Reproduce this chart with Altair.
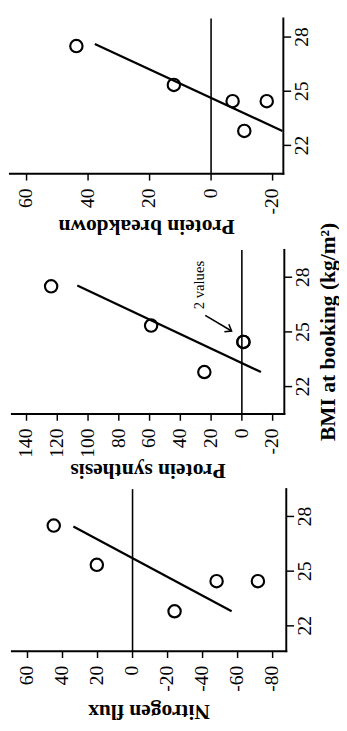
import altair as alt
import pandas as pd

# ---- data ----
bmi = [27.5, 25.35, 24.45, 24.45, 22.8]
nitrogen_flux = [45, 20.4, -48, -71.6, -24]
protein_synthesis = [124, 59, -1, -1, 24.4]
protein_breakdown = [43.8, 12.1, -7, -18.1, -10.8]

fit_bmi_nf = [27.45, 22.8]
fit_nf = [33.8, -56.6]
fit_bmi_ps = [27.55, 22.8]
fit_ps = [107, -12.4]
fit_bmi_pb = [27.62, 22.8]
fit_pb = [37.8, -23.2]

bmi_ticks = [22, 25, 28]
nf_ticks = [60, 40, 20, 0, -20, -40, -60, -80]
ps_ticks = [140, 120, 100, 80, 60, 40, 20, 0, -20]
pb_ticks = [60, 40, 20, 0, -20]

titles = ["Protein breakdown", "Protein synthesis", "Nitrogen flux"]
bmi_title = "BMI at booking (kg/m²)"

note_text = ["2 values"]
note_bmi = [27.57]
note_val = [27.6]
arrow_bmi = [25.91, 25.05]
arrow_val = [23.8, 6.7]

SERIF = "Liberation Serif"

# panel layout: value axis (horizontal, reversed) and BMI axis (vertical)
panels = [
    dict(name=titles[0], vals=protein_breakdown, fb=fit_bmi_pb, fv=fit_pb,
         ticks=pb_ticks, vdom=[-23.5, 65.4], xr=[280, 0],
         bdom=[20.43, 29.03], yr=[159, 0], ty=54),
    dict(name=titles[1], vals=protein_synthesis, fb=fit_bmi_ps, fv=fit_ps,
         ticks=ps_ticks, vdom=[-27.6, 149.5], xr=[281, 2],
         bdom=[20.5, 29.5], yr=[405, 237], ty=58, bmi_title=True, note=True),
    dict(name=titles[2], vals=nitrogen_flux, fb=fit_bmi_nf, fv=fit_nf,
         ticks=nf_ticks, vdom=[-87.8, 68.9], xr=[283, 2],
         bdom=[20.61, 29.5], yr=[648, 482], ty=62),
]


def build(p):
    xs = alt.Scale(domain=p["vdom"], range=p["xr"], nice=False, zero=False)
    ys = alt.Scale(domain=p["bdom"], range=p["yr"], nice=False, zero=False)

    def X(f):
        return alt.X(f, type="quantitative", scale=xs, axis=None)

    def Y(f):
        return alt.Y(f, type="quantitative", scale=ys, axis=None)

    v0, v1 = p["vdom"]
    b0, b1 = p["bdom"]
    out = []
    # zero reference line
    out.append(alt.Chart(pd.DataFrame({"v": [0], "b1": [b0], "b2": [b1]}))
               .mark_rule(color="black", strokeWidth=1.6)
               .encode(x=X("v"), y=Y("b1"), y2=alt.Y2("b2")))
    # axis lines
    out.append(alt.Chart(pd.DataFrame({"v1": [v0], "v2": [v1], "b": [b0]}))
               .mark_rule(color="black", strokeWidth=2, strokeCap="square")
               .encode(x=X("v1"), x2=alt.X2("v2"), y=Y("b")))
    out.append(alt.Chart(pd.DataFrame({"v": [v0], "b1": [b0], "b2": [b1]}))
               .mark_rule(color="black", strokeWidth=2, strokeCap="square")
               .encode(x=X("v"), y=Y("b1"), y2=alt.Y2("b2")))
    # value-axis ticks and labels
    xt = pd.DataFrame({"v": p["ticks"], "b": [b0] * len(p["ticks"]),
                       "lab": [str(t) for t in p["ticks"]]})
    out.append(alt.Chart(xt).mark_rule(color="black", strokeWidth=1.5, y2Offset=7)
               .encode(x=X("v"), y=Y("b"), y2=alt.Y2("b")))
    out.append(alt.Chart(xt).mark_text(font=SERIF, fontSize=20, angle=270,
                                       align="right", baseline="middle",
                                       color="black", yOffset=15)
               .encode(x=X("v"), y=Y("b"), text="lab:N"))
    # BMI-axis ticks and labels
    yt = pd.DataFrame({"bmi": bmi_ticks, "v": [v0] * len(bmi_ticks),
                       "lab": [str(t) for t in bmi_ticks]})
    out.append(alt.Chart(yt).mark_rule(color="black", strokeWidth=1.5, x2Offset=8)
               .encode(x=X("v"), x2=alt.X2("v"), y=Y("bmi")))
    out.append(alt.Chart(yt).mark_text(font=SERIF, fontSize=20, angle=270,
                                       align="center", baseline="top",
                                       color="black", xOffset=9)
               .encode(x=X("v"), y=Y("bmi"), text="lab:N"))
    # axis title (upside down, as in the rotated figure)
    out.append(alt.Chart(pd.DataFrame({"t": [p["name"]], "v": [(v0 + v1) / 2],
                                       "b": [b0]}))
               .mark_text(font=SERIF, fontSize=22, fontWeight="bold", angle=180,
                          align="center", baseline="middle", color="black",
                          yOffset=p["ty"])
               .encode(x=X("v"), y=Y("b"), text="t:N"))
    if p.get("bmi_title"):
        out.append(alt.Chart(pd.DataFrame({"t": [bmi_title], "v": [v0],
                                           "b": [(b0 + b1) / 2]}))
                   .mark_text(font=SERIF, fontSize=22, fontWeight="bold",
                              angle=270, align="center", baseline="middle",
                              color="black", xOffset=45)
                   .encode(x=X("v"), y=Y("b"), text="t:N"))
    # regression line and points
    out.append(alt.Chart(pd.DataFrame({"bmi": p["fb"], "v": p["fv"]}))
               .mark_line(color="black", strokeWidth=2.3)
               .encode(x=X("v"), y=Y("bmi"), order="bmi:Q"))
    out.append(alt.Chart(pd.DataFrame({"bmi": bmi, "v": p["vals"]}))
               .mark_point(shape="circle", filled=False, size=160, color="black",
                           strokeWidth=2.2, opacity=1)
               .encode(x=X("v"), y=Y("bmi")))
    if p.get("note"):
        out.append(alt.Chart(pd.DataFrame({"t": note_text, "bmi": note_bmi,
                                           "v": note_val}))
                   .mark_text(font=SERIF, fontSize=15, angle=270, align="center",
                              baseline="middle", color="black")
                   .encode(x=X("v"), y=Y("bmi"), text="t:N"))
        ar = pd.DataFrame({"bmi": arrow_bmi, "v": arrow_val, "o": [0, 1]})
        out.append(alt.Chart(ar).mark_line(color="black", strokeWidth=1.6)
                   .encode(x=X("v"), y=Y("bmi"), order="o:Q"))
        out.append(alt.Chart(ar.iloc[[1]]).mark_point(
            shape="M -1 -0.75 L 0 0 L -1 0.75", filled=False, size=140, angle=31,
            color="black", strokeWidth=1.6, opacity=1)
            .encode(x=X("v"), y=Y("bmi")))
    return out


layers = []
for p in panels:
    layers.extend(build(p))

chart = alt.layer(*layers).resolve_scale(
    x="independent", y="independent"
).properties(
    width=331, height=715,
    padding={"left": 0, "top": 0, "right": 0, "bottom": 0},
    background="white",
).configure_view(strokeWidth=0)

chart.save("out.html", embed_options={"renderer": "svg", "actions": False})
